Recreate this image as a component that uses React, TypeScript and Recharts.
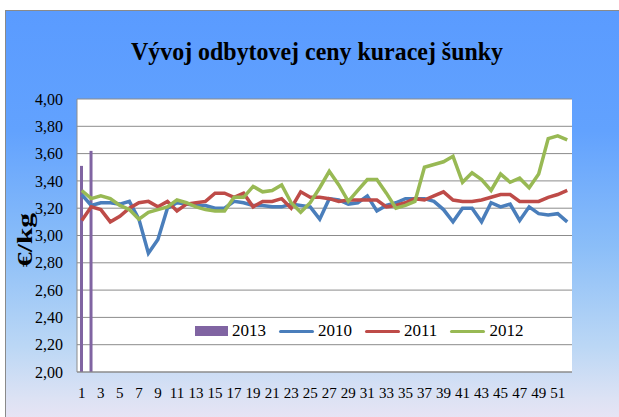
import React from "react";
import {
  ComposedChart, Bar, Line, XAxis, YAxis, CartesianGrid,
} from "recharts";

const WEEKS = Array.from({ length: 52 }, (_, i) => i + 1);

const Y2013 = [3.51, 3.62];

const Y2010 = [
  3.30, 3.22, 3.24, 3.24, 3.23, 3.25, 3.12, 2.87, 2.97, 3.20,
  3.24, 3.23, 3.22, 3.22, 3.20, 3.20, 3.25, 3.24, 3.22, 3.22,
  3.21, 3.21, 3.23, 3.22, 3.21, 3.12, 3.27, 3.26, 3.23, 3.24,
  3.29, 3.18, 3.22, 3.24, 3.27, 3.27, 3.27, 3.25, 3.19, 3.10,
  3.20, 3.20, 3.10, 3.24, 3.21, 3.23, 3.11, 3.21, 3.16, 3.15,
  3.16, 3.10,
];

const Y2011 = [
  3.11, 3.21, 3.19, 3.10, 3.14, 3.20, 3.24, 3.25, 3.21, 3.25,
  3.18, 3.23, 3.24, 3.25, 3.31, 3.31, 3.28, 3.31, 3.21, 3.25,
  3.25, 3.27, 3.20, 3.32, 3.28, 3.28, 3.27, 3.25, 3.26, 3.26,
  3.26, 3.26, 3.21, 3.22, 3.24, 3.27, 3.26, 3.29, 3.32, 3.26,
  3.25, 3.25, 3.26, 3.28, 3.30, 3.30, 3.25, 3.25, 3.25, 3.28,
  3.30, 3.33,
];

const Y2012 = [
  3.33, 3.27, 3.29, 3.27, 3.22, 3.19, 3.12, 3.17, 3.19, 3.21,
  3.26, 3.24, 3.21, 3.19, 3.18, 3.18, 3.28, 3.28, 3.36, 3.32,
  3.33, 3.37, 3.24, 3.17, 3.24, 3.35, 3.47, 3.37, 3.25, 3.33,
  3.41, 3.41, 3.31, 3.20, 3.22, 3.25, 3.50, 3.52, 3.54, 3.58,
  3.39, 3.46, 3.41, 3.33, 3.45, 3.39, 3.42, 3.35, 3.45, 3.71,
  3.73, 3.70,
];

const Y_TICKS = [2, 2.2, 2.4, 2.6, 2.8, 3, 3.2, 3.4, 3.6, 3.8, 4];

const C2013 = "#8064A2";
const C2010 = "#4A7EBB";
const C2011 = "#BE4B48";
const C2012 = "#98B954";

const FONT = '"Liberation Serif", "Times New Roman", serif';

const data = WEEKS.map((w, i) => ({
  week: String(w),
  y2013: i < Y2013.length ? Y2013[i] : null,
  y2010: Y2010[i],
  y2011: Y2011[i],
  y2012: Y2012[i],
}));

const LEGEND = [
  { name: "2013", color: C2013, bar: true },
  { name: "2010", color: C2010, bar: false },
  { name: "2011", color: C2011, bar: false },
  { name: "2012", color: C2012, bar: false },
];

function LegendBox() {
  return (
    <div style={{ position: "absolute", left: 195, top: 321, display: "flex", alignItems: "center", fontFamily: FONT, fontSize: 17, color: "#000", lineHeight: "20px" }}>
      {LEGEND.map((l) => (
        <div key={l.name} style={{ display: "flex", alignItems: "center", marginRight: 13 }}>
          {l.bar ? (
            <div style={{ width: 33, height: 10, background: l.color }} />
          ) : (
            <div style={{ width: 35, height: 3, background: l.color, borderRadius: 2 }} />
          )}
          <span style={{ marginLeft: 4 }}>{l.name}</span>
        </div>
      ))}
    </div>
  );
}

export default function App() {
  return (
    <div style={{ position: "fixed", left: 0, top: 0, width: 619, height: 417, overflow: "hidden", background: "#fff" }}>
      <div
        style={{
          position: "absolute", left: 5, top: 10, width: 640, height: 430,
          borderTop: "1px solid #8a8a8a", borderLeft: "1px solid #8a8a8a",
          background: "linear-gradient(180deg, #5A9BFF 0%, #62A2FE 28%, #8BBEF8 55%, #BBD7F5 78%, #DCE2F4 90%, #F4E6F5 100%)",
        }}
      />
      <svg style={{ position: "absolute", left: 0, top: 0 }} width={619} height={417}>
        <text x={317} y={60} textAnchor="middle" fontFamily={FONT} fontWeight="bold" fontSize={25}
          textLength={372} lengthAdjust="spacingAndGlyphs" fill="#000">
          Vývoj odbytovej ceny kuracej šunky
        </text>
        <text transform="translate(32,240) rotate(-90)" textAnchor="middle" fontFamily={FONT}
          fontWeight="bold" fontSize={21} textLength={54} lengthAdjust="spacingAndGlyphs" fill="#000">
          €/kg
        </text>
      </svg>
      <div style={{ position: "absolute", left: 0, top: 0 }}>
        <ComposedChart
          width={619}
          height={417}
          data={data}
          margin={{ top: 99, left: 17, right: 47, bottom: 15 }}
          barCategoryGap={0}
        >
          <CartesianGrid vertical={false} stroke="#8c8c8c" fill="#ffffff" />
          <XAxis
            dataKey="week"
            height={30}
            interval={1}
            tickLine={false}
            tickSize={0}
            tickMargin={15}
            axisLine={{ stroke: "#8c8c8c" }}
            tick={{ fontFamily: FONT, fontSize: 15, fill: "#000" }}
          />
          <YAxis
            width={60}
            domain={[2, 4]}
            ticks={Y_TICKS}
            interval={0}
            tickLine={false}
            tickSize={0}
            tickMargin={14}
            axisLine={{ stroke: "#8c8c8c" }}
            tickFormatter={(v: number) => v.toFixed(2).replace(".", ",")}
            tick={{ fontFamily: FONT, fontSize: 16, fill: "#000" }}
          />
          <YAxis yAxisId="r" orientation="right" width={0} domain={[2, 4]} tick={false} tickLine={false}
            axisLine={{ stroke: "#b0b0b0" }} />
          <Bar dataKey="y2013" name="2013" fill={C2013} barSize={3} isAnimationActive={false} />
          <Line type="linear" dataKey="y2010" name="2010" stroke={C2010} strokeWidth={3.5} dot={false} isAnimationActive={false} />
          <Line type="linear" dataKey="y2011" name="2011" stroke={C2011} strokeWidth={3.5} dot={false} isAnimationActive={false} />
          <Line type="linear" dataKey="y2012" name="2012" stroke={C2012} strokeWidth={3.5} dot={false} isAnimationActive={false} />
        </ComposedChart>
      </div>
      <LegendBox />
    </div>
  );
}
